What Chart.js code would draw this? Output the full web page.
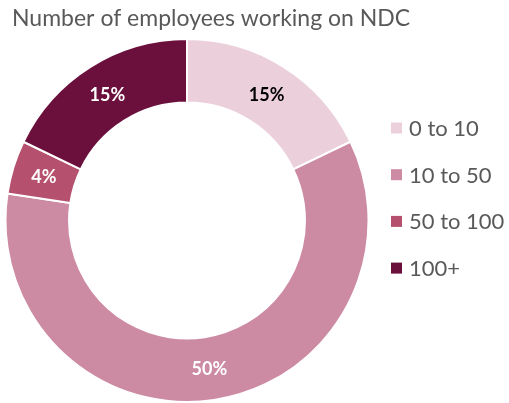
<!DOCTYPE html>
<html>
<head>
<meta charset="utf-8">
<script src="https://cdn.jsdelivr.net/npm/chart.js@4"></script>
<style>
  html, body { margin:0; padding:0; background:#fff; }
  #wrap { width:509px; height:403px; }
</style>
</head>
<body>
<div id="wrap"><canvas id="chart" width="509" height="403"></canvas></div>
<script>
// Data
const categories = ['0 to 10', '10 to 50', '50 to 100', '100+'];
const shares = [15, 50, 4, 15];
const sliceColors = ['#EBD0DB', '#CC8AA3', '#B5506F', '#6B0F3C'];
const labelColors = ['#000000', '#ffffff', '#ffffff', '#ffffff'];
const titleText = 'Number of employees working on NDC';

// Percent labels inside the slices
const sliceLabels = {
    id: 'sliceLabels',
    afterDatasetsDraw(chart){
        const ctx = chart.ctx;
        const meta = chart.getDatasetMeta(0);
        ctx.save();
        ctx.font = 'bold 18px Lato, sans-serif';
        ctx.textAlign = 'center';
        ctx.textBaseline = 'middle';
        meta.data.forEach((arc, i) => {
            const p = arc.tooltipPosition();
            ctx.fillStyle = labelColors[i];
            ctx.fillText(shares[i] + '%', p.x, p.y + 1);
        });
        ctx.restore();
    }
};

// Title and legend drawn by hand for exact placement
const sideLegend = {
    id: 'sideLegend',
    afterDraw(chart){
        const ctx = chart.ctx;
        ctx.save();
        ctx.fillStyle = '#595959';
        ctx.font = '23px Lato, sans-serif';
        ctx.textBaseline = 'middle';
        ctx.fillText(titleText, 12, 19);

        const x0 = 391, y0 = 128, step = 46.7;
        ctx.font = '22px Lato, sans-serif';
        categories.forEach((c, i) => {
            const y = y0 + i * step;
            ctx.fillStyle = sliceColors[i];
            ctx.fillRect(x0, y - 5.5, 11, 11);
            ctx.fillStyle = '#595959';
            ctx.fillText(c, x0 + 18, y + 1);
        });
        ctx.restore();
    }
};

new Chart(document.getElementById('chart'), {
    type: 'doughnut',
    data: {
        labels: categories,
        datasets: [{
            data: shares,
            backgroundColor: sliceColors,
            borderColor: '#ffffff',
            borderWidth: 2
        }]
    },
    options: {
        responsive: false,
        animation: false,
        cutout: '65%',
        layout: { padding: { left: 2, right: 137, top: 38, bottom: 0 } },
        plugins: {
            legend: { display: false },
            tooltip: { enabled: false },
            title: { display: false }
        }
    },
    plugins: [sliceLabels, sideLegend]
});
</script>
</body>
</html>
